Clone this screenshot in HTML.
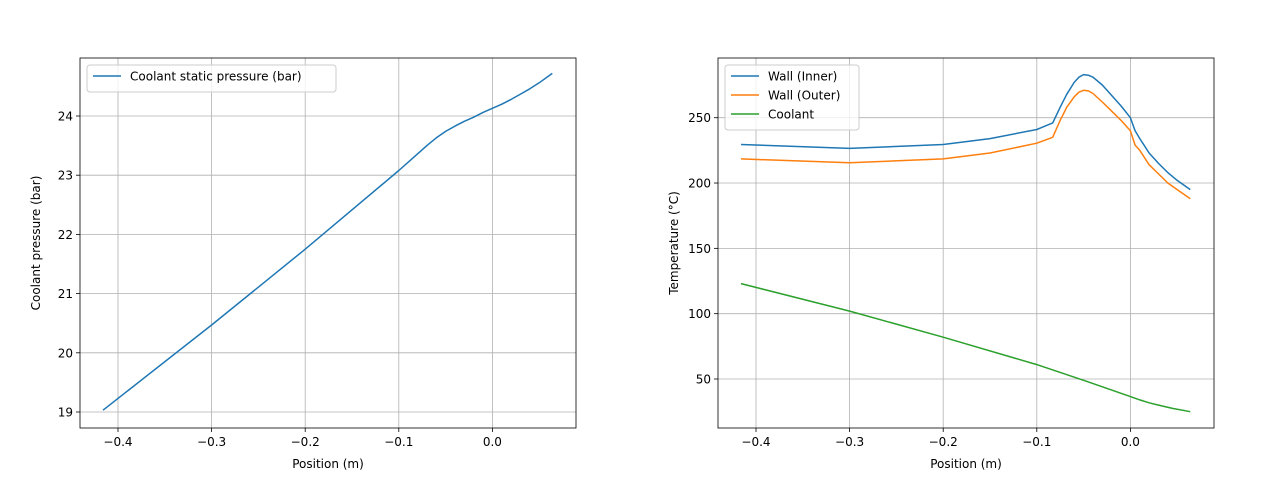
<!DOCTYPE html>
<html><head><meta charset="utf-8"><style>
body{margin:0;background:#fff;font-family:"Liberation Sans","DejaVu Sans",sans-serif}
svg text{font-family:"DejaVu Sans","Liberation Sans",sans-serif;font-size:12px;fill:#000}
</style></head><body>
<svg id="fig" width="1280" height="480" viewBox="0 0 1280 480" xmlns="http://www.w3.org/2000/svg"></svg>
<script>
const xTicks=[-0.4,-0.3,-0.2,-0.1,0.0];
const xTickLabels=["−0.4","−0.3","−0.2","−0.1","0.0"];
const pX=[-0.416,-0.3,-0.2,-0.1,-0.09,-0.08,-0.07,-0.06,-0.05,-0.04,-0.03,-0.02,-0.01,0,0.01,0.02,0.03,0.04,0.05,0.064];
const pY=[19.03,20.47,21.75,23.08,23.22,23.36,23.5,23.63,23.74,23.83,23.91,23.98,24.06,24.13,24.2,24.28,24.37,24.46,24.56,24.72];
const pTicks=[19,20,21,22,23,24];
const tX=[-0.416,-0.3,-0.2,-0.15,-0.1,-0.083,-0.075,-0.068,-0.06,-0.055,-0.05,-0.045,-0.04,-0.03,-0.02,-0.01,0,0.005,0.01,0.02,0.03,0.04,0.05,0.064];
const innerT=[229.5,226.5,229.5,234,241,246,258,268,277,281,283,282.5,281,275,267,259,250,240,234,223,215,208,202,195];
const outerT=[218.5,215.5,218.5,223,230.5,235,248,258,266,269.5,271,270.5,268.5,262,255,248,240,229,225,214,207,200,195,188];
const cX=[-0.416,-0.3,-0.2,-0.1,-0.05,-0.02,0,0.01,0.02,0.03,0.045,0.064];
const coolT=[123,102,82,61,49,41.5,36.5,34,31.8,30,27.5,25];
const tTicks=[50,100,150,200,250];
const NS="http://www.w3.org/2000/svg";
const svg=document.getElementById('fig');
function el(tag,attrs,parent){const e=document.createElementNS(NS,tag);for(const k in attrs)e.setAttribute(k,attrs[k]);(parent||svg).appendChild(e);return e;}
function axes(L,name,yTicks,yFn,ylabel,series,legend,legW){
  const g=el('g',{});
  
  
  const xFn=v=>L+38+(v+0.4)*936;
  xTicks.forEach((t,i)=>{const x=xFn(t);
    const l=el('line',{x1:x,x2:x,y1:58,y2:428,stroke:'#b0b0b0','stroke-width':0.8},g);
    
    el('line',{x1:x,x2:x,y1:428,y2:432,stroke:'#000','stroke-width':0.8},g);
    const tx=el('text',{x:x,y:446,'text-anchor':'middle'},g);tx.textContent=xTickLabels[i];
    });
  yTicks.forEach(t=>{const y=yFn(t);
    const l=el('line',{x1:L,x2:L+496,y1:y,y2:y,stroke:'#b0b0b0','stroke-width':0.8},g);
    
    el('line',{x1:L-4,x2:L,y1:y,y2:y,stroke:'#000','stroke-width':0.8},g);
    const tx=el('text',{x:L-7,y:y+4.5,'text-anchor':'end'},g);tx.textContent=t;
    });
  series.forEach(s=>{
    const d=s.x.map((v,i)=>(i?'L':'M')+xFn(v).toFixed(1)+','+yFn(s.y[i]).toFixed(1)).join('');
    const p=el('path',{d:d,fill:'none',stroke:s.c,'stroke-width':1.5,'stroke-linejoin':'round'},g);
    });
  const fr=el('rect',{x:L,y:58,width:496,height:370,fill:'none',stroke:'#000','stroke-width':0.8},g);
  
  const xl=el('text',{x:L+248,y:468,'text-anchor':'middle'},g);xl.textContent='Position (m)';
  
  const yx=L-40;
  const yl=el('text',{x:yx,y:243,'text-anchor':'middle',transform:`rotate(-90 ${yx} 243)`},g);yl.textContent=ylabel;
  
  const lg=el('g',{},g);
  
  el('rect',{x:L+7,y:65,width:legW,height:8+legend.length*19,rx:3,fill:'#fff','fill-opacity':0.8,stroke:'#ccc'},lg);
  legend.forEach((s,i)=>{const y=76+i*19;
    el('line',{x1:L+13,x2:L+41,y1:y,y2:y,stroke:s.c,'stroke-width':1.5},lg);
    const t=el('text',{x:L+50,y:y+4.5},lg);t.textContent=s.label;
    });
}
axes(80,'pressure-chart',pTicks,v=>412-(v-19)*59.2,'Coolant pressure (bar)',
  [{x:pX,y:pY,c:'#1f77b4',n:'pressure-line'}],
  [{c:'#1f77b4',label:'Coolant static pressure (bar)'}],249);
axes(718,'temperature-chart',tTicks,v=>379-(v-50)*1.3065,'Temperature (°C)',
  [{x:tX,y:innerT,c:'#1f77b4',n:'wall-inner-line'},{x:tX,y:outerT,c:'#ff7f0e',n:'wall-outer-line'},{x:cX,y:coolT,c:'#2ca02c',n:'coolant-line'}],
  [{c:'#1f77b4',label:'Wall (Inner)'},{c:'#ff7f0e',label:'Wall (Outer)'},{c:'#2ca02c',label:'Coolant'}],134);
</script>
</body></html>
